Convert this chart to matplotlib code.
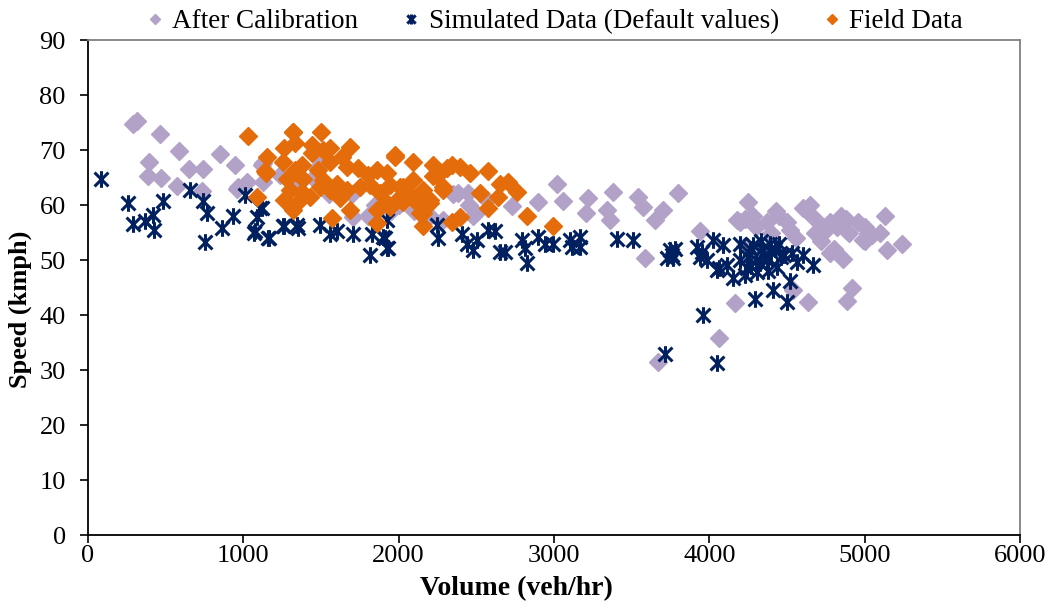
import matplotlib
matplotlib.use("Agg")
import matplotlib.pyplot as plt
from matplotlib.path import Path

plt.rcParams['font.family'] = ['Liberation Serif', 'DejaVu Serif']

# ---------------- data ----------------
calib_x = [290, 315, 464, 588, 395, 388, 470, 575, 652, 742, 850, 944, 732, 957, 1022,
           1125, 1118, 1236, 1320, 968, 1129, 1472, 1494, 1708, 2288, 2384, 2448, 2566,
           2727, 2899, 3017, 3056, 3221, 3206, 2481, 3382, 3339, 3361, 3543, 3575, 3650,
           3704, 3800, 3586, 3940, 4176, 4165, 4065, 3672, 4637, 4541, 4777, 4863, 4917,
           4885, 5142, 5239, 5034, 4992, 4885,
           4250, 4230, 4280, 4200, 4370, 4430, 4450, 4500, 4520, 4600, 4650, 4640, 4680,
           4720, 4750, 4780, 4820, 4850, 4880, 4900, 4960, 5000, 5020, 5000, 5050, 5100,
           5130, 4700, 4560, 4400, 4300, 4230, 4800,
           1350, 1450, 1550, 1700, 1850, 2000, 2200, 2100, 1800, 1950, 2350, 2450, 2500]
calib_y = [74.8, 75.3, 72.9, 69.9, 67.8, 65.3, 65.0, 63.5, 66.5, 66.5, 69.3, 67.2, 62.6, 63.0, 64.2,
           64.2, 67.3, 65.5, 64.2, 63.3, 67.6, 66.7, 68.5, 57.9, 57.3, 62.1, 62.1, 60.9,
           59.8, 60.6, 63.9, 60.8, 61.2, 58.5, 58.0, 62.4, 59.1, 57.3, 61.5, 59.7, 57.3,
           59.1, 62.1, 50.3, 55.2, 57.3, 42.1, 35.8, 31.5, 42.4, 44.5, 51.2, 50.1, 45.0,
           42.6, 51.8, 53.0, 54.8, 53.6, 55.2,
           60.5, 57.5, 58.0, 57.0, 57.0, 59.0, 58.0, 57.0, 55.5, 59.5, 60.0, 58.5, 55.0,
           53.5, 55.5, 57.0, 56.0, 58.0, 57.5, 55.0, 57.0, 56.0, 55.0, 53.5, 54.5, 55.0,
           58.0, 57.0, 54.0, 55.0, 56.0, 52.5, 52.0,
           63.0, 65.0, 62.0, 62.0, 60.0, 60.0, 58.0, 59.0, 58.0, 59.0, 62.0, 60.0, 58.5]

sim_x = [82, 255, 288, 367, 421, 425, 481, 657, 738, 764, 753, 865, 931, 1011, 1071,
         1086, 1118, 1167, 1262, 1343, 1107, 1075, 1161, 1257, 1354, 1494, 1558, 1601,
         1708, 1826, 1815, 1901, 1923, 1923, 2245, 2255, 1912, 1933, 2406, 2438, 2481,
         2502, 2577, 2620, 2652, 2685, 2792, 2813, 2824, 2899, 2942, 2996, 3103, 3114,
         3167, 3167, 3404, 3511, 3747, 3768, 3725, 3780, 3760, 3919, 3940, 3983, 3950,
         4026, 4090, 4047, 4060, 4112, 3962, 3715, 4047,
         4198, 4283, 4391, 4326, 4434, 4530, 4605, 4670, 4562, 4154, 4230, 4305, 4294,
         4412, 4498, 4519, 4250, 4270, 4350, 4370, 4400, 4420, 4460, 4480, 4300, 4340,
         4240, 4200, 4380, 4450, 4330, 4260]
sim_y = [64.7, 60.3, 56.5, 57.1, 58.2, 55.5, 60.8, 62.8, 60.8, 58.5, 53.3, 55.9, 58.0, 61.8, 55.0,
         57.8, 59.4, 54.0, 56.2, 56.4, 59.4, 55.2, 54.0, 56.1, 55.8, 56.4, 54.8, 55.2,
         54.8, 54.8, 50.9, 54.2, 52.1, 57.3, 56.4, 54.0, 54.0, 52.1, 54.8, 53.0, 51.8,
         53.6, 55.5, 55.2, 51.5, 51.5, 53.6, 52.1, 49.4, 54.2, 53.0, 53.0, 53.6, 52.4,
         54.2, 52.4, 53.9, 53.6, 51.8, 50.3, 50.3, 52.0, 51.0, 52.4, 50.6, 50.0, 51.5,
         53.6, 52.7, 48.2, 48.5, 49.1, 40.0, 33.0, 31.3,
         53.0, 52.7, 53.0, 49.4, 48.8, 51.2, 50.9, 49.1, 49.7, 46.7, 47.3, 47.9, 43.0,
         44.5, 42.4, 46.1, 50.5, 49.0, 51.0, 50.0, 51.5, 52.0, 50.5, 51.0, 50.0, 52.0,
         48.5, 50.0, 48.0, 53.0, 53.5, 52.0]

field_x = [1028, 1086, 1150, 1144, 1262, 1257, 1262, 1318, 1322, 1322, 1500, 1333, 1440,
           1515, 1687, 1558, 1140, 1376, 1333, 1440, 1483, 1558, 1633, 1665, 1740, 1805,
           1858, 1923, 1977, 2094, 2223, 2309, 1279, 1386, 1515, 1601, 1300, 1376, 1343,
           1429, 1494, 1558, 1622, 1687, 1569, 1665, 1751, 1815, 1880, 1944, 1858, 1858,
           1923, 1987, 2030, 2073, 2116, 2094, 2159, 2202, 2245, 2288, 2159, 2159,
           1977, 2341, 2395, 2459, 2577, 2652, 2706, 2760, 2824, 2996, 2524, 2577, 2641,
           2395, 2341, 2223, 2288, 2202, 2137, 2030, 1944, 2009]
field_y = [72.5, 61.5, 68.8, 65.9, 70.3, 67.9, 60.9, 73.3, 59.1, 73.3, 73.3, 71.2, 70.9,
           70.0, 70.6, 70.3, 66.1, 67.3, 66.4, 69.4, 66.4, 67.9, 68.8, 67.0, 66.7, 65.5,
           66.4, 65.8, 68.8, 67.9, 67.3, 66.7, 64.8, 64.8, 64.5, 63.9, 62.7, 62.4, 60.3,
           61.5, 63.3, 62.7, 61.2, 59.1, 57.6, 62.7, 63.3, 63.6, 62.1, 63.6, 59.1, 56.7,
           60.3, 60.9, 63.3, 61.8, 60.3, 64.5, 62.7, 60.9, 65.2, 62.7, 58.5, 56.1,
           69.1, 67.3, 67.0, 65.8, 66.1, 63.9, 64.2, 62.4, 58.0, 56.1, 62.1, 59.4, 61.5,
           57.9, 57.0, 65.2, 63.3, 60.3, 58.5, 60.6, 59.7, 63.3]

x_ticks = [0, 1000, 2000, 3000, 4000, 5000, 6000]
y_ticks = [0, 10, 20, 30, 40, 50, 60, 70, 80, 90]

# ---------------- style ----------------
c_calib = '#B3A2C7'
c_sim = '#002060'
c_field = '#E46C0A'

star = Path([(-0.5, -0.5), (0.5, 0.5), (-0.5, 0.5), (0.5, -0.5), (0, -0.6), (0, 0.6)],
            [Path.MOVETO, Path.LINETO, Path.MOVETO, Path.LINETO, Path.MOVETO, Path.LINETO])

fig = plt.figure(figsize=(10.54, 6.07), dpi=100)
ax = fig.add_axes([0.0835, 0.1186, 0.8842, 0.8154])

ax.plot(calib_x, calib_y, linestyle='none', marker='D', ms=9, color=c_calib,
        mec=c_calib, label='After Calibration', zorder=2)
ax.plot(sim_x, sim_y, linestyle='none', marker=star, ms=12, mew=2.2, color=c_sim,
        label='Simulated Data (Default values)', zorder=3)
ax.plot(field_x, field_y, linestyle='none', marker='D', ms=9, color=c_field,
        mec=c_field, label='Field Data', zorder=4)

ax.set_xlim(0, 6000)
ax.set_ylim(0, 90)
ax.set_xticks(x_ticks)
ax.set_yticks(y_ticks)
ax.tick_params(axis='both', direction='out', length=6, width=1.2, labelsize=19, color='black')
ax.tick_params(axis='x', pad=1)
ax.tick_params(axis='y', pad=10)

for s in ['left', 'bottom']:
    ax.spines[s].set_color('black')
    ax.spines[s].set_linewidth(1.3)
for s in ['top', 'right']:
    ax.spines[s].set_color('#808080')
    ax.spines[s].set_linewidth(1.3)

ax.set_xlabel('Volume (veh/hr)', fontsize=20, fontweight='bold')
ax.set_ylabel('Speed (kmph)', fontsize=19, fontweight='bold')
ax.xaxis.set_label_coords(0.46, -0.083)
ax.yaxis.set_label_coords(-0.060, 0.457)

ax.legend(loc='lower center', bbox_to_anchor=(0.5, 0.99), ncol=3, frameon=False,
          fontsize=19.5, markerscale=0.6, handlelength=0.7, handletextpad=0.3,
          columnspacing=1.6, borderaxespad=0.0)

fig.savefig('out.png', dpi=100)
